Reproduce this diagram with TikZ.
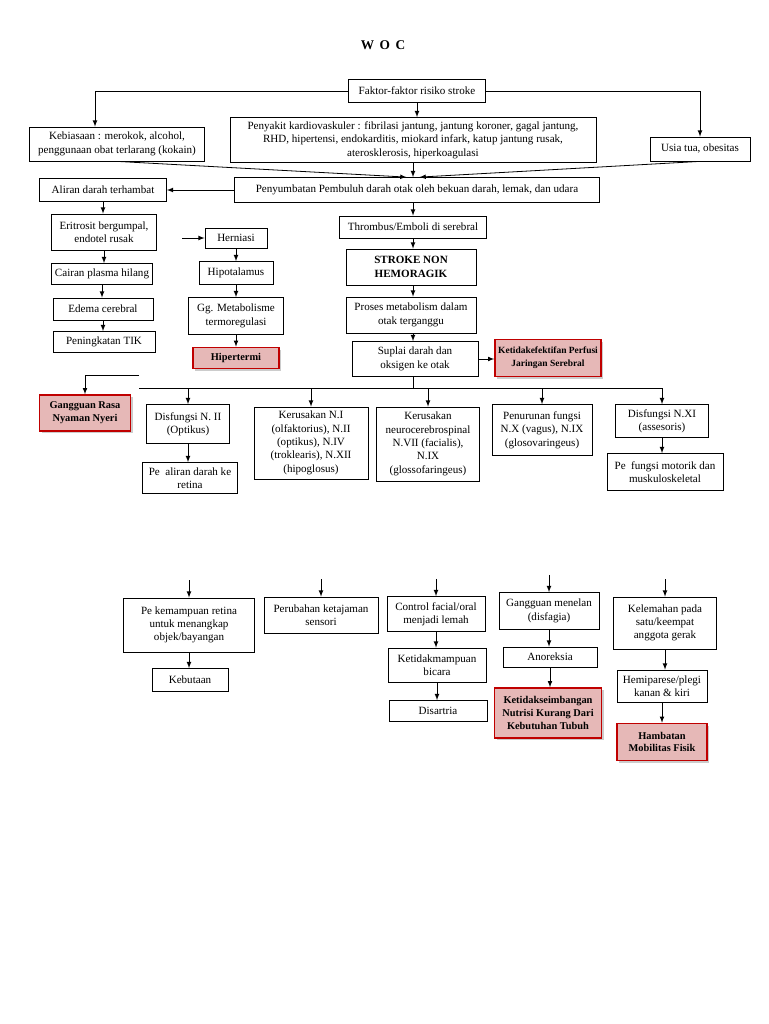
\documentclass[tikz,border=0pt]{standalone}
\usepackage{fontspec}
\setmainfont{Liberation Serif}
\usetikzlibrary{shadows}
\definecolor{rosefill}{RGB}{230,184,183}
\definecolor{darkred}{RGB}{192,0,0}
\begin{document}
\begin{tikzpicture}[x=0.75pt, y=-0.75pt, >=latex, line width=0.6pt,
    box/.style={draw, align=center, inner sep=1pt, font=\fontsize{8.3}{10}\selectfont},
    diag/.style={box, draw=darkred, line width=1.2pt, fill=rosefill,
      font=\fontsize{7.8}{9.5}\selectfont\bfseries,
      drop shadow={shadow xshift=1.6pt, shadow yshift=-1.6pt, opacity=0.4}},
    sz/.style 2 args={minimum width=#1*0.75pt, minimum height=#2*0.75pt}]
      \fill[white] (0,0) rectangle (768,1024);
      \useasboundingbox (0,0) rectangle (768,1024);

      \node (judul) at (383,45) {\fontsize{10}{12}\selectfont\bfseries W\, O\, C};

      % faktor risiko
      \node[box, sz={137}{23}] (faktor) at (417,91) {Faktor-faktor risiko stroke};
      \node[box, sz={175}{34}] (kebiasaan) at (117,144) {Kebiasaan : merokok, alcohol,\\penggunaan obat terlarang (kokain)};
      \node[box, sz={366}{45}] (penyakit) at (413,140) {Penyakit kardiovaskuler : fibrilasi jantung, jantung koroner, gagal jantung,\\RHD, hipertensi, endokarditis, miokard infark, katup jantung rusak,\\aterosklerosis, hiperkoagulasi};
      \node[box, sz={100}{24}] (usia) at (700,149) {Usia tua, obesitas};
      \node[box, sz={365}{25}] (penyumbatan) at (417,190) {Penyumbatan Pembuluh darah otak oleh bekuan darah, lemak, dan udara};
      \coordinate (meet) at (penyakit.south |- penyumbatan.north);

      \draw[->] (faktor.west) -| ([xshift=-16.5pt]kebiasaan.north);
      \draw[->] (faktor.east) -| (usia.north);
      \draw[->] (faktor.south) -- (faktor.south |- penyakit.north);
      \draw[->] (kebiasaan.south) -- ([xshift=-5pt]meet);
      \draw[->] (usia.south) -- ([xshift=5pt]meet);
      \draw[->] (penyakit.south) -- (meet);

      % kiri
      \node[box, sz={127}{23}] (aliran) at (103,190) {Aliran darah terhambat};
      \node[box, sz={105}{36}] (eritrosit) at (104,232) {Eritrosit bergumpal,\\endotel rusak};
      \node[box, sz={101}{21}] (cairan) at (102,274) {Cairan plasma hilang};
      \node[box, sz={100}{22}] (edema) at (103,309) {Edema cerebral};
      \node[box, sz={102}{21}] (tik) at (104,342) {Peningkatan TIK};
      \draw[->] (penyumbatan.west) -- (aliran.east);
      \foreach \a/\b in {aliran/eritrosit, eritrosit/cairan, cairan/edema, edema/tik}
        \draw[->] (\a.south) -- (\a.south |- \b.north);

      \coordinate (hstart) at (182,238);
      \node[box, sz={62}{20}] (herniasi) at (236,238) {Herniasi};
      \node[box, sz={74}{23}] (hipotalamus) at (236,273) {Hipotalamus};
      \node[box, sz={95}{37}] (metabolisme) at (236,316) {Gg. Metabolisme\\termoregulasi};
      \node[diag, sz={86}{21}] (hipertermi) at (236,358) {Hipertermi};
      \draw[->] (hstart) -- (herniasi.west);
      \foreach \a/\b in {herniasi/hipotalamus, hipotalamus/metabolisme, metabolisme/hipertermi}
        \draw[->] (\a.south) -- (\a.south |- \b.north);

      % tengah
      \node[box, sz={147}{22}] (thrombus) at (413,227) {Thrombus/Emboli di serebral};
      \node[box, sz={130}{36}, font=\fontsize{8.3}{10}\selectfont\bfseries] (stroke) at (411,267) {STROKE NON\\HEMORAGIK};
      \node[box, sz={130}{36}] (proses) at (411,315) {Proses metabolism dalam\\otak terganggu};
      \node[box, sz={126}{35}] (suplai) at (415,359) {Suplai darah dan\\oksigen ke otak};
      \node[diag, sz={106}{37}, font=\fontsize{7.1}{9.5}\selectfont\bfseries] (perfusi) at (548,358) {Ketidakefektifan Perfusi\\Jaringan Serebral};
      \foreach \a/\b in {penyumbatan/thrombus, thrombus/stroke, stroke/proses, proses/suplai}
        \draw[->] (meet |- \a.south) -- (meet |- \b.north);
      \draw[->] (suplai.east) -- (suplai.east -| perfusi.west);

      % cabang saraf
      \coordinate (busL) at (139,388);
      \coordinate (busR) at (662,388);
      \coordinate (nyeriL) at (139,375);
      \node[diag, sz={91}{36}] (nyeri) at (85,413) {Gangguan Rasa\\Nyaman Nyeri};
      \node[box, sz={83}{39}] (optikus) at (188,424) {Disfungsi N. II\\(Optikus)};
      \node[box, sz={95}{31}] (retina) at (190,478) {Pe~~aliran darah ke\\retina};
      \node[box, sz={114}{72}] (nervusA) at (311,443) {Kerusakan N.I\\(olfaktorius), N.II\\(optikus), N.IV\\(troklearis), N.XII\\(hipoglosus)};
      \node[box, sz={103}{74}] (nervusB) at (428,444) {Kerusakan\\neurocerebrospinal\\N.VII (facialis),\\N.IX\\(glossofaringeus)};
      \node[box, sz={100}{51}] (nervusC) at (542,430) {Penurunan fungsi\\N.X (vagus), N.IX\\(glosovaringeus)};
      \node[box, sz={93}{33}] (nervusD) at (662,421) {Disfungsi N.XI\\(assesoris)};
      \node[box, sz={116}{37}] (motorik) at (665,472) {Pe~~fungsi motorik dan\\muskuloskeletal};
      \draw (meet |- suplai.south) -- (meet |- busL);
      \draw (busL) -- (busR);
      \draw[->] (nyeriL) -| (nyeri.north);
      \foreach \n in {optikus, nervusA, nervusB, nervusC, nervusD}
        \draw[->] (\n.north |- busL) -- (\n.north);
      \draw[->] (optikus.south) -- (optikus.south |- retina.north);
      \draw[->] (nervusD.south) -- (nervusD.south |- motorik.north);

      % bagian bawah
      \node[box, sz={131}{54}] (kemampuan) at (189,625) {Pe kemampuan retina\\untuk menangkap\\objek/bayangan};
      \node[box, sz={76}{23}] (kebutaan) at (190,680) {Kebutaan};
      \node[box, sz={114}{36}] (sensori) at (321,615) {Perubahan ketajaman\\sensori};
      \node[box, sz={98}{35}] (facial) at (436,614) {Control facial/oral\\menjadi lemah};
      \node[box, sz={98}{34}] (bicara) at (437,665) {Ketidakmampuan\\bicara};
      \node[box, sz={98}{21}] (disartria) at (438,711) {Disartria};
      \node[box, sz={100}{37}] (menelan) at (549,611) {Gangguan menelan\\(disfagia)};
      \node[box, sz={94}{20}] (anoreksia) at (550,657) {Anoreksia};
      \node[diag, sz={107}{50}] (nutrisi) at (548,713) {Ketidakseimbangan\\Nutrisi Kurang Dari\\Kebutuhan Tubuh};
      \node[box, sz={103}{52}] (kelemahan) at (665,623) {Kelemahan pada\\satu/keempat\\anggota gerak};
      \node[box, sz={90}{32}] (hemiparese) at (662,686) {Hemiparese/plegi\\kanan \& kiri};
      \node[diag, sz={90}{37}] (mobilitas) at (662,742) {Hambatan\\Mobilitas Fisik};
      \foreach \n in {kemampuan, sensori, facial, menelan, kelemahan}
        \draw[->] ([yshift=13pt]\n.north) -- (\n.north);
      \foreach \a/\b in {kemampuan/kebutaan, facial/bicara, bicara/disartria, menelan/anoreksia,
          anoreksia/nutrisi, kelemahan/hemiparese, hemiparese/mobilitas}
        \draw[->] (\a.south) -- (\a.south |- \b.north);
    \end{tikzpicture}
\end{document}
